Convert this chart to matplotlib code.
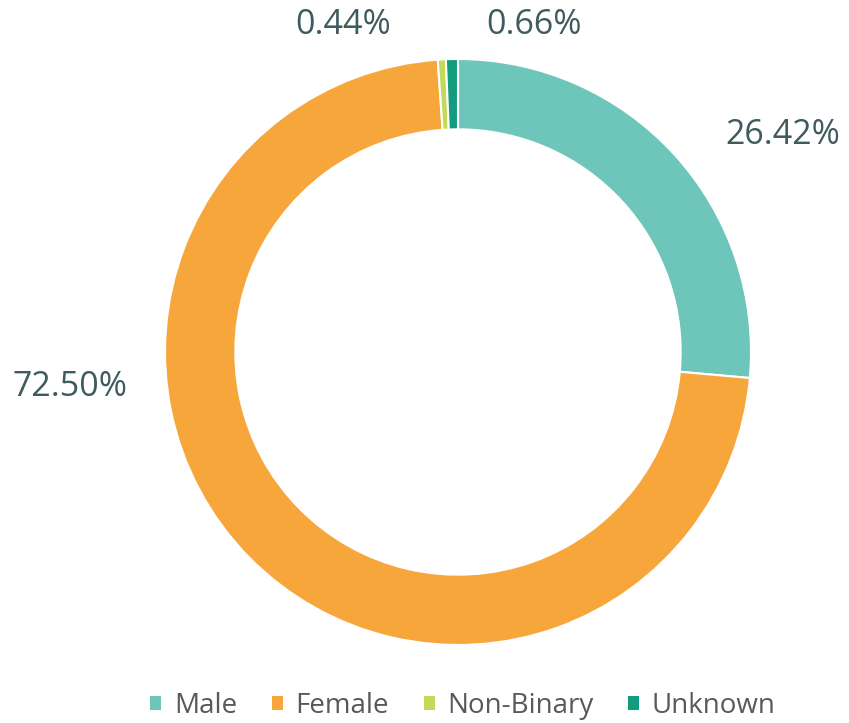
import matplotlib
matplotlib.use("Agg")
import matplotlib.pyplot as plt
from matplotlib.patches import Patch

categories = ["Male", "Female", "Non-Binary", "Unknown"]
values = [26.42, 72.50, 0.44, 0.66]
labels = ["26.42%", "72.50%", "0.44%", "0.66%"]
colors = ["#6DC6B9", "#F7A63C", "#C3D95A", "#119C7E"]

W, H = 849, 723
fig = plt.figure(figsize=(W / 100, H / 100), dpi=100)
ax = fig.add_axes([0, 0, 1, 1])
ax.set_xlim(0, W)
ax.set_ylim(0, H)
ax.axis("off")

cx, cy, r = 458, H - 352, 293
ax.pie(values, colors=colors, startangle=90, counterclock=False,
       center=(cx, cy), radius=r,
       wedgeprops=dict(width=r * 0.24, edgecolor="white", linewidth=1.5))
ax.set_xlim(0, W)
ax.set_ylim(0, H)
ax.set_aspect("equal")

label_pos = [(783, H - 135), (70, H - 387), (343, H - 25), (534, H - 25)]
for txt, (x, y) in zip(labels, label_pos):
    ax.text(x, y, txt, ha="center", va="center", fontsize=24.5,
            color="#3E5B5E", family="Open Sans")

handles = [Patch(facecolor=c, edgecolor="none", label=n) for c, n in zip(colors, categories)]
leg = fig.legend(handles=handles, loc="center", bbox_to_anchor=(463 / W, 1 - 706 / H),
                 ncol=4, frameon=False, handlelength=0.4, handleheight=0.4,
                 handletextpad=0.45, columnspacing=1.25,
                 prop=dict(family="Open Sans", size=20))
for t in leg.get_texts():
    t.set_color("#595959")

fig.savefig("out.png", dpi=100)
